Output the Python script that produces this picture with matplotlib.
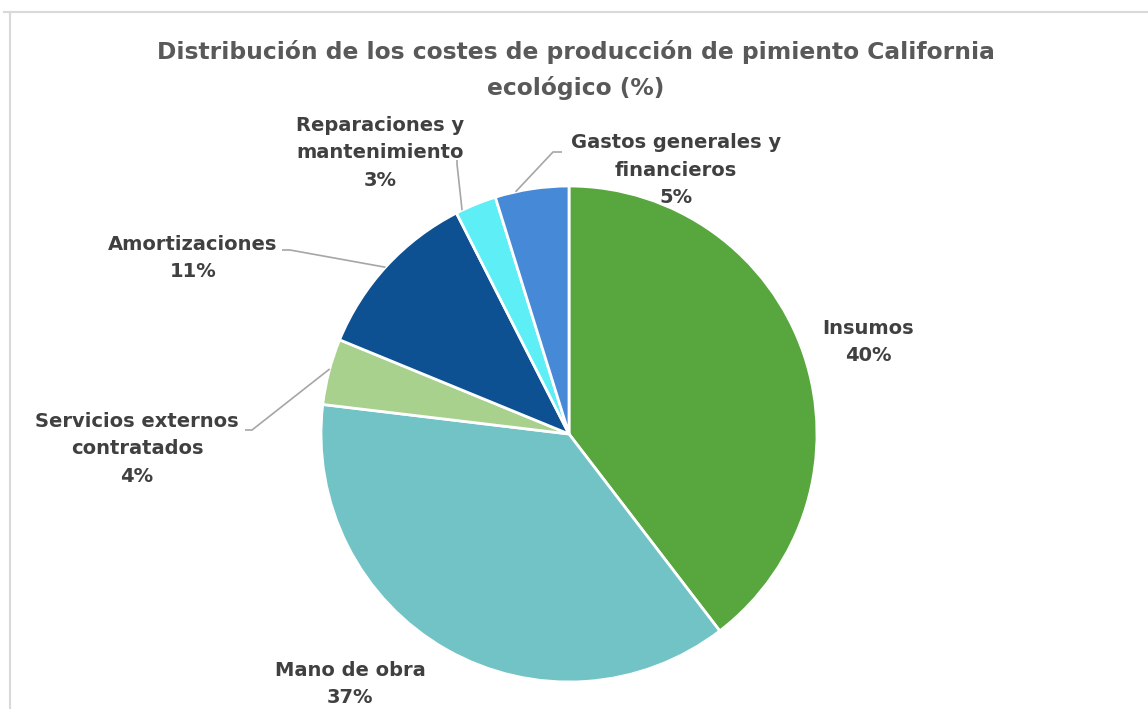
import numpy as np
import matplotlib
matplotlib.use("Agg")
import matplotlib.pyplot as plt
from matplotlib.lines import Line2D

categories = ["Insumos", "Mano de obra", "Servicios externos\ncontratados",
              "Amortizaciones", "Reparaciones y\nmantenimiento", "Gastos generales y\nfinancieros"]
values = [39.6, 37.3, 4.3, 11.3, 2.7, 4.8]
pct_labels = ["40%", "37%", "4%", "11%", "3%", "5%"]
colors = ["#58A63E", "#72C3C6", "#A9D18E", "#0E5193", "#5DEFF5", "#4689D6"]
title = "Distribución de los costes de producción de pimiento California\necológico (%)"

W, H = 1148, 709
fig = plt.figure(figsize=(W / 100, H / 100), dpi=100)
ax = fig.add_axes([0, 0, 1, 1])

cx, cy, R = 569, H - 434, 248
wedges, _ = ax.pie(values, colors=colors, startangle=90, counterclock=False,
                   center=(cx, cy), radius=R, frame=True,
                   wedgeprops=dict(edgecolor="white", linewidth=2))
ax.set_xlim(0, W)
ax.set_ylim(0, H)
ax.set_aspect("equal")
ax.axis("off")

font = "DejaVu Sans"
tcol = "#404040"
# label positions (pixel coords, y from top) and leader anchors
label_pos = [(868, 342), (350, 684), (137, 449), (193, 258), (380, 153), (676, 170)]
leader = [None, None, ((245, 430), (252, 430)), ((282, 250), (290, 250)),
          ((457, 160), (457, 164)), ((562, 152), (553, 152))]
leader_frac = [0.5, 0.5, 0.46, 0.51, 0.85, 0.72]

for i, w in enumerate(wedges):
    x, y = label_pos[i]
    ax.text(x, H - y, categories[i] + "\n" + pct_labels[i], ha="center", va="center",
            fontsize=14, fontweight="bold", color=tcol, family=font, linespacing=1.55)
    if leader[i] is not None:
        ang = np.deg2rad(w.theta1 + leader_frac[i] * (w.theta2 - w.theta1))
        ex, ey = cx + R * np.cos(ang), cy + R * np.sin(ang)
        (a, b) = leader[i]
        ax.plot([a[0], b[0], ex], [H - a[1], H - b[1], ey], color="#A6A6A6", lw=1.2,
                solid_capstyle="butt")

ax.text(576, H - 70, title, ha="center", va="center", fontsize=16.8, fontweight="bold",
        color="#595959", family=font, linespacing=1.6)

# chart frame
fig.add_artist(Line2D([4 / W, 1], [1 - 12 / H, 1 - 12 / H], color="#D9D9D9", lw=1.5,
                      transform=fig.transFigure))
fig.add_artist(Line2D([10 / W, 10 / W], [0, 1 - 12 / H], color="#D9D9D9", lw=1.5,
                      transform=fig.transFigure))

fig.savefig("out.png", dpi=100, facecolor="white")
